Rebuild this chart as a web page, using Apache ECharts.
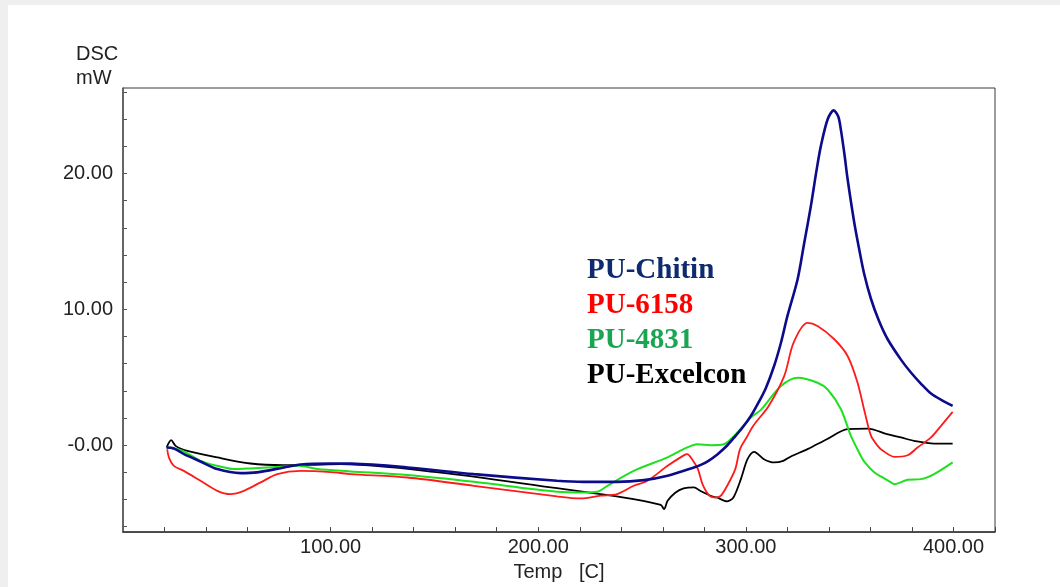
<!DOCTYPE html>
<html>
<head>
<meta charset="utf-8">
<script src="https://cdn.jsdelivr.net/npm/echarts@6/dist/echarts.min.js"></script>
<style>
  html, body { margin: 0; padding: 0; background: #efefef; }
  #dsc-chart { position: absolute; left: 8px; top: 5px; width: 1052px; height: 582px; background: #fff; }
</style>
</head>
<body>
<div id="dsc-chart"></div>
<script>
// ---------- DATA ----------
// temperature (C), heat flow (mW)
const chitin = [
  [21, -0.17], [24.5, -0.24], [29.4, -0.66], [37.3, -1.2], [45.4, -1.76], [56.6, -2.06],
  [64.6, -2.0], [77.5, -1.64], [85.5, -1.42], [100, -1.35], [110, -1.36], [137, -1.64],
  [169, -2.13], [209, -2.62], [222, -2.7], [238, -2.7], [251, -2.57], [262.3, -2.25],
  [275, -1.64], [278.3, -1.45], [282, -1.15], [286.4, -0.66], [290.5, -0.1], [294.4, 0.57],
  [298.4, 1.3], [302.4, 2.15], [305.6, 3.0], [309.6, 4.2], [313.6, 5.83], [317, 7.6],
  [320, 9.5], [324.9, 12.2], [328, 14.8], [331.3, 17.6], [334, 20.2], [336.1, 22.0],
  [339.4, 24.0], [342.3, 24.65], [344.5, 24.2], [345.8, 23.2], [347.5, 21.4], [349, 19.6],
  [352.2, 16.4], [354.5, 14.5], [357, 12.6], [360.2, 10.8], [364, 9.2], [368.3, 7.8],
  [374.7, 6.3], [379.5, 5.35], [384.5, 4.5], [389.2, 3.8], [394.5, 3.3], [399.6, 2.9]
];
const pu6158 = [
  [21.3, -0.3], [22.1, -0.9], [24.5, -1.52], [29.3, -1.89], [37.3, -2.62], [45.4, -3.36],
  [51.8, -3.6], [58.2, -3.36], [66.3, -2.74], [74.3, -2.13], [85.5, -1.89], [101.6, -2.0],
  [109.6, -2.13], [137, -2.38], [169, -2.99], [209, -3.77], [220.5, -3.92], [230, -3.72],
  [238, -3.6], [246, -2.99], [252.6, -2.62], [262.3, -1.52], [270.1, -0.75], [271.8, -0.66],
  [273.5, -0.9], [276.9, -1.76], [279.2, -2.9], [282.7, -3.75], [286, -3.85], [288, -3.72],
  [291, -2.99], [294.9, -1.76], [297.2, -0.29], [300.5, 0.6], [303.5, 1.42], [311, 2.89],
  [318.5, 5.1], [323, 7.55], [329.7, 9.0], [334.5, 8.77], [342.6, 7.8], [349, 6.57],
  [353.8, 4.6], [357.3, 2.4], [360.3, 0.68], [363.5, -0.05], [365.5, -0.35], [371.5, -0.86],
  [377.9, -0.74], [382.7, -0.17], [389.2, 0.57], [394, 1.42], [399.6, 2.45]
];
const pu4831 = [
  [21, -0.17], [24.5, -0.24], [29.3, -0.45], [37.3, -1.15], [45.4, -1.52], [53.4, -1.76],
  [61.4, -1.71], [77.5, -1.57], [85, -1.52], [93.6, -1.76], [109.6, -1.93], [137, -2.2],
  [169, -2.7], [209, -3.43], [222, -3.48], [228.5, -3.43], [233.3, -2.99], [246, -1.89],
  [262.3, -0.9], [270, -0.29], [276.7, 0.07], [283, 0.0], [289.4, 0.07], [295.9, 0.93],
  [302.4, 2.04], [307.2, 2.6], [316.9, 4.36], [325, 4.97], [334.5, 4.6], [339.4, 4.1],
  [345.8, 2.65], [350.6, 0.68], [355.4, -0.79], [357.3, -1.27], [361.8, -2.0], [365, -2.3],
  [369.9, -2.74], [371.5, -2.87], [377.9, -2.55], [384.4, -2.5], [390.7, -2.13], [399.6, -1.27]
];
const excelcon = [
  [21, -0.17], [23.2, 0.37], [25.3, -0.05], [29.2, -0.34], [45.4, -0.9], [61.4, -1.35],
  [77.3, -1.47], [90, -1.45], [105, -1.4], [152, -2.0], [209, -3.16], [230, -3.6],
  [246, -3.97], [259, -4.4], [260.6, -4.7], [262.3, -4.1], [266, -3.5], [270, -3.18],
  [275, -3.1], [278, -3.36], [283, -3.73], [286, -3.85], [291, -4.14], [294, -3.85],
  [297.6, -2.5], [300.8, -1.03], [304, -0.49], [308.7, -1.03], [313.6, -1.27], [318, -1.15],
  [321.7, -0.83], [329.7, -0.29], [339, 0.44], [349, 1.18], [358.7, 1.22], [368, 0.81],
  [374.7, 0.57], [381, 0.32], [390.7, 0.12], [399.6, 0.12]
];

const seriesNames = ['PU-Chitin', 'PU-6158', 'PU-4831', 'PU-Excelcon'];
const xTickValues = [20, 40, 60, 80, 100, 120, 140, 160, 180, 200, 220, 240, 260, 280, 300, 320, 340, 360, 380, 400, 420];
const xLabelValues = [100, 200, 300, 400];
const yTickValues = [-6, -4, -2, 0, 2, 4, 6, 8, 10, 12, 14, 16, 18, 20, 22, 24, 26];
const yLabelValues = [0, 10, 20];
const yLabelText = ['-0.00', '10.00', '20.00'];

// ---------- CHART ----------
const lineColors = ['#0b0b8c', '#ff1a1a', '#1fe01f', '#000000'];
const nameColors = ['#0d2b6e', '#ff0000', '#19a552', '#000000'];
const lineWidths = [2.6, 1.8, 2, 1.8];

let dscChart = echarts.init(document.getElementById('dsc-chart'));

let legendTexts = seriesNames.map((n, i) => ({
  type: 'text',
  left: 579,
  top: 251 + i * 35,
  style: {
    text: n,
    fill: nameColors[i],
    font: 'bold 29px "Liberation Serif", "Times New Roman", serif'
  }
}));

let dscOptions = {
  animation: false,
  grid: {
    left: 115, top: 83, right: 65, bottom: 54,
    show: true, borderColor: '#3a3a3a', borderWidth: 1
  },
  xAxis: {
    type: 'value',
    min: 0, max: 420,
    name: 'Temp   [C]',
    nameLocation: 'middle',
    nameGap: 27,
    nameTextStyle: { fontFamily: 'Liberation Sans, Arial', fontSize: 20, color: '#222' },
    splitLine: { show: false },
    axisLine: { onZero: false, lineStyle: { color: '#333', width: 1.5 } },
    axisTick: { inside: true, length: 5, customValues: xTickValues, lineStyle: { color: '#444' } },
    axisLabel: {
      customValues: xLabelValues,
      margin: 5,
      fontFamily: 'Liberation Sans, Arial', fontSize: 20, color: '#222',
      formatter: v => v.toFixed(2)
    }
  },
  yAxis: {
    type: 'value',
    min: -6.4, max: 26.3,
    splitLine: { show: false },
    axisLine: { show: true, onZero: false, lineStyle: { color: '#555', width: 1.5 } },
    axisTick: { show: true, inside: true, length: 4, customValues: yTickValues, lineStyle: { color: '#555' } },
    axisLabel: {
      customValues: yLabelValues,
      margin: 10,
      fontFamily: 'Liberation Sans, Arial', fontSize: 20, color: '#222',
      formatter: v => yLabelText[yLabelValues.indexOf(v)]
    }
  },
  graphic: [
    {
      type: 'text', left: 68, top: 37,
      style: {
        text: 'DSC\nmW', fill: '#222', align: 'center',
        font: '20px "Liberation Sans", Arial', lineHeight: 24
      }
    }
  ].concat(legendTexts),
  series: [chitin, pu6158, pu4831, excelcon].map((d, i) => ({
    name: seriesNames[i],
    type: 'line',
    data: d,
    showSymbol: false,
    smooth: 0.3,
    z: 4 - i,
    lineStyle: { color: lineColors[i], width: lineWidths[i] }
  }))
};

dscChart.setOption(dscOptions);
</script>
</body>
</html>
